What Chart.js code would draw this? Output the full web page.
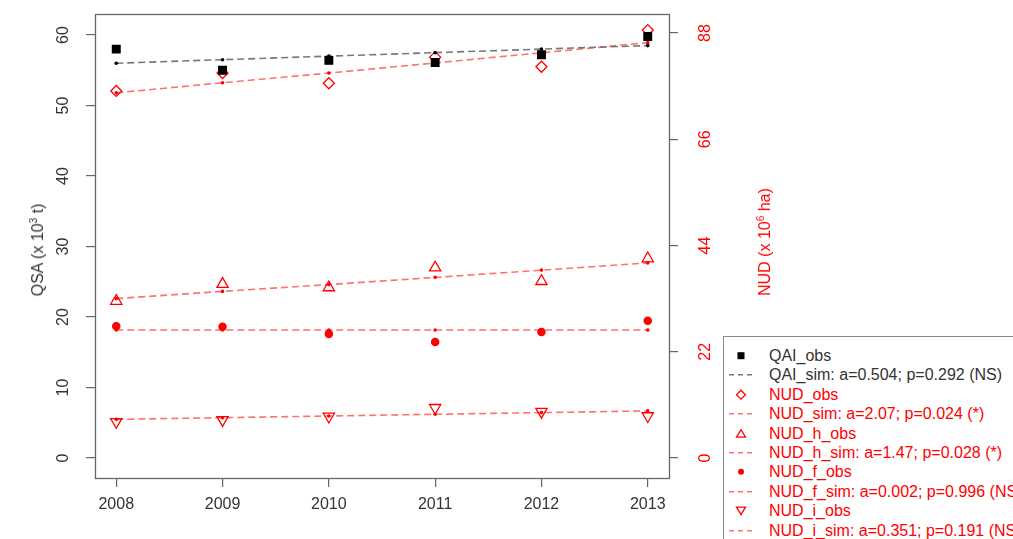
<!DOCTYPE html>
<html>
<head>
<meta charset="utf-8">
<script src="https://cdn.jsdelivr.net/npm/chart.js"></script>
<style>
  html, body { margin: 0; padding: 0; background: #fff; }
  #wrap { position: relative; width: 1013px; height: 539px; overflow: hidden; background: #fff;
          font-family: 'Liberation Sans', Arial, Helvetica, sans-serif; }
  #c { position: absolute; left: 0; top: 0; }
  .ytitle { position: absolute; white-space: nowrap; font-size: 16px; line-height: 18px;
            transform: translate(-50%, -50%) rotate(-90deg); }
  .ytitle sup { font-size: 10px; vertical-align: 6px; line-height: 0; }
  #legend { position: absolute; left: 723px; top: 336px; width: 320px; height: 230px;
            border: 1px solid #8a8a8a; box-sizing: border-box; background: #fff; }
  .row { position: absolute; left: 0; height: 19.4px; width: 320px; font-size: 16px; line-height: 19.4px; white-space: nowrap; }
  .row svg { position: absolute; left: 2px; top: 0; }
  .row span { position: absolute; left: 45px; top: 0; }
</style>
</head>
<body>
<div id="wrap">
  <canvas id="c" width="1013" height="539"></canvas>
  <div class="ytitle" style="left:38px; top:250px; color:#333;">QSA (x 10<sup>3</sup> t)</div>
  <div class="ytitle" style="left:765px; top:242px; color:#ff0000;">NUD (x 10<sup>6</sup> ha)</div>
  <div id="legend"></div>
</div>
<script>
// Years on the horizontal axis
const years = [2008, 2009, 2010, 2011, 2012, 2013];

// QSA, left axis (x 10^3 t)
const qaiObs = [58.0, 55.0, 56.4, 56.1, 57.2, 59.8];
const qaiSim = [56.0, 56.5, 57.0, 57.5, 58.0, 58.5];

// NUD, right axis (x 10^6 ha)
const nudObs  = [76.0, 79.7, 77.6, 83.0, 81.0, 88.6];
const nudSim  = [75.6, 77.7, 79.7, 81.8, 83.9, 86.0];
const nudHObs = [32.5, 36.0, 35.3, 39.4, 36.6, 41.3];
const nudHSim = [33.0, 34.5, 35.9, 37.4, 38.9, 40.4];
const nudFObs = [27.3, 27.2, 25.7, 24.0, 26.1, 28.4];
const nudFSim = [26.49, 26.49, 26.50, 26.50, 26.51, 26.51];
const nudIObs = [7.5, 7.9, 8.6, 10.4, 9.6, 8.7];
const nudISim = [8.0, 8.35, 8.7, 9.05, 9.4, 9.75];

// Tick labels
const leftTicks  = [0, 10, 20, 30, 40, 50, 60];
const rightTicks = [0, 22, 44, 66, 88];

// Legend texts
const legendTexts = [
  'QAI_obs',
  'QAI_sim: a=0.504; p=0.292 (NS)',
  'NUD_obs',
  'NUD_sim: a=2.07; p=0.024 (*)',
  'NUD_h_obs',
  'NUD_h_sim: a=1.47; p=0.028 (*)',
  'NUD_f_obs',
  'NUD_f_sim: a=0.002; p=0.996 (NS)',
  'NUD_i_obs',
  'NUD_i_sim: a=0.351; p=0.191 (NS)'
];

const RED = '#ff0000';
const RED_LINE = '#ff7070';
const BLACK = '#000000';
const GREY_LINE = '#777777';
const FONT = "'Liberation Sans', Arial, Helvetica, sans-serif";

const pts = vals => years.map((x, i) => ({ x: x, y: vals[i] }));

function obsSet(label, vals, axis, style) {
  return Object.assign({
    label: label, data: pts(vals), yAxisID: axis, showLine: false,
    pointBorderWidth: 1.3, pointHoverRadius: 0
  }, style);
}
function simSet(label, vals, axis, lineColor, dotColor) {
  return {
    label: label, data: pts(vals), yAxisID: axis, showLine: true,
    borderColor: lineColor, borderWidth: 1.6, borderDash: [7, 4],
    pointStyle: 'circle', pointRadius: 1.8, pointBackgroundColor: dotColor,
    pointBorderWidth: 0, pointHoverRadius: 0, fill: false
  };
}

const datasets = [
  obsSet(legendTexts[0], qaiObs, 'yL', { pointStyle: 'rect', pointRadius: 5.4, pointBackgroundColor: BLACK, pointBorderColor: BLACK }),
  simSet(legendTexts[1], qaiSim, 'yL', GREY_LINE, BLACK),
  obsSet(legendTexts[2], nudObs, 'yR', { pointStyle: 'rectRot', pointRadius: 5.5, pointBackgroundColor: 'rgba(0,0,0,0)', pointBorderColor: RED }),
  simSet(legendTexts[3], nudSim, 'yR', RED_LINE, RED),
  obsSet(legendTexts[4], nudHObs, 'yR', { pointStyle: 'triangle', pointRadius: 6.5, pointBackgroundColor: 'rgba(0,0,0,0)', pointBorderColor: RED }),
  simSet(legendTexts[5], nudHSim, 'yR', RED_LINE, RED),
  obsSet(legendTexts[6], nudFObs, 'yR', { pointStyle: 'circle', pointRadius: 3.6, pointBackgroundColor: RED, pointBorderColor: RED }),
  simSet(legendTexts[7], nudFSim, 'yR', RED_LINE, RED),
  obsSet(legendTexts[8], nudIObs, 'yR', { pointStyle: 'triangle', pointRotation: 180, pointRadius: 6.5, pointBackgroundColor: 'rgba(0,0,0,0)', pointBorderColor: RED }),
  simSet(legendTexts[9], nudISim, 'yR', RED_LINE, RED)
];

// Frame around the plotting region
const frame = {
  id: 'frame',
  beforeDatasetsDraw(chart) {
    const a = chart.chartArea, ctx = chart.ctx;
    ctx.save();
    ctx.strokeStyle = '#666';
    ctx.lineWidth = 1.3;
    ctx.strokeRect(Math.round(a.left) + 0.5, Math.round(a.top) + 0.5,
                   Math.round(a.right - a.left), Math.round(a.bottom - a.top));
    ctx.restore();
  }
};

// Y tick labels written parallel to their axis (reading upwards)
const sideLabels = {
  id: 'sideLabels',
  afterDraw(chart) {
    const ctx = chart.ctx;
    const specs = [
      { scale: chart.scales.yL, color: '#333', x: s => s.right - 32 },
      { scale: chart.scales.yR, color: RED, x: s => s.left + 36 }
    ];
    ctx.save();
    ctx.font = '16px ' + FONT;
    ctx.textAlign = 'center';
    ctx.textBaseline = 'middle';
    specs.forEach(sp => {
      const s = sp.scale;
      ctx.fillStyle = sp.color;
      s.ticks.forEach(t => {
        const y = s.getPixelForValue(t.value);
        ctx.save();
        ctx.translate(sp.x(s), y);
        ctx.rotate(-Math.PI / 2);
        ctx.fillText(String(t.value), 0, 1);
        ctx.restore();
      });
    });
    ctx.restore();
  }
};

const tickGrid = { drawOnChartArea: false, drawTicks: true, tickLength: 9, color: '#666', lineWidth: 1.2 };
const noPad = s => { s.paddingTop = 0; s.paddingBottom = 0; };

new Chart(document.getElementById('c'), {
  type: 'scatter',
  data: { datasets: datasets },
  plugins: [frame, sideLabels],
  options: {
    responsive: false,
    animation: false,
    devicePixelRatio: 1,
    layout: { padding: { top: 14, left: 0, right: 0, bottom: 0 } },
    plugins: { legend: { display: false }, tooltip: { enabled: false } },
    scales: {
      x: {
        type: 'linear', position: 'bottom', min: 2007.8, max: 2013.2,
        afterBuildTicks: s => { s.ticks = years.map(v => ({ value: v })); },
        afterFit: s => { s.height = 61; s.paddingLeft = 0; s.paddingRight = 0; },
        ticks: { callback: v => String(v), color: '#333', font: { family: FONT, size: 16 }, padding: 8, maxRotation: 0, minRotation: 0 },
        grid: tickGrid, border: { display: false }
      },
      yL: {
        type: 'linear', position: 'left', min: -2.84, max: 62.98,
        afterBuildTicks: s => { s.ticks = leftTicks.map(v => ({ value: v })); },
        afterFit: s => { s.width = 95; noPad(s); },
        ticks: { display: false },
        grid: tickGrid, border: { display: false }
      },
      yR: {
        type: 'linear', position: 'right', min: -4.14, max: 91.93,
        afterBuildTicks: s => { s.ticks = rightTicks.map(v => ({ value: v })); },
        afterFit: s => { s.width = 344; noPad(s); },
        ticks: { display: false },
        grid: tickGrid, border: { display: false }
      }
    }
  }
});

// Legend entries built from the datasets
function symbolSvg(ds) {
  const w = 36, h = 19, cx = 15, cy = 9.7;
  let inner;
  if (ds.showLine) {
    inner = `<line x1="3" y1="${cy}" x2="29" y2="${cy}" stroke="${ds.borderColor}" stroke-width="1.6" stroke-dasharray="5,4"/>`;
  } else if (ds.pointStyle === 'rect') {
    inner = `<rect x="${cx - 3.5}" y="${cy - 3.5}" width="7" height="7" fill="${BLACK}"/>`;
  } else if (ds.pointStyle === 'rectRot') {
    inner = `<polygon points="${cx},${cy - 4.5} ${cx + 4.5},${cy} ${cx},${cy + 4.5} ${cx - 4.5},${cy}" fill="none" stroke="${RED}" stroke-width="1.3"/>`;
  } else if (ds.pointStyle === 'circle') {
    inner = `<circle cx="${cx}" cy="${cy}" r="3" fill="${RED}"/>`;
  } else if (ds.pointRotation === 180) {
    inner = `<polygon points="${cx - 4.5},${cy - 3.5} ${cx + 4.5},${cy - 3.5} ${cx},${cy + 4}" fill="none" stroke="${RED}" stroke-width="1.3"/>`;
  } else {
    inner = `<polygon points="${cx - 4.5},${cy + 3.5} ${cx + 4.5},${cy + 3.5} ${cx},${cy - 4}" fill="none" stroke="${RED}" stroke-width="1.3"/>`;
  }
  return `<svg width="${w}" height="${h}" viewBox="0 0 ${w} ${h}">${inner}</svg>`;
}

const legendEl = document.getElementById('legend');
datasets.forEach((ds, i) => {
  const row = document.createElement('div');
  row.className = 'row';
  row.style.top = (9 + i * 19.4) + 'px';
  row.style.color = i < 2 ? '#333' : RED;
  row.innerHTML = symbolSvg(ds) + `<span>${ds.label}</span>`;
  legendEl.appendChild(row);
});
</script>
</body>
</html>
